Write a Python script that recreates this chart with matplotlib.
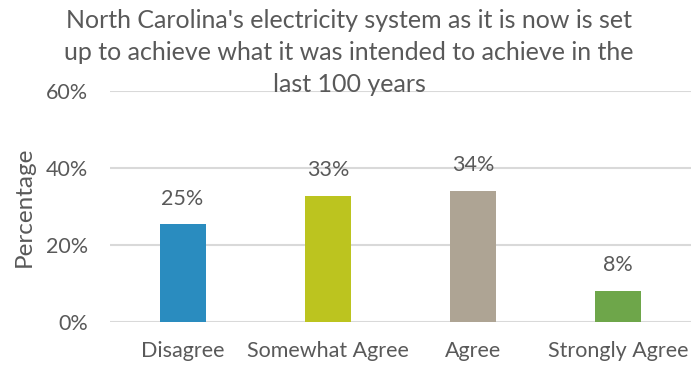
import matplotlib
matplotlib.use("Agg")
import matplotlib.pyplot as plt

# Survey responses (share of respondents, %)
categories = ["Disagree", "Somewhat Agree", "Agree", "Strongly Agree"]
shares = [25.4, 32.8, 34.1, 8.1]
bar_colors = ["#2a8cbf", "#bcc41f", "#aea494", "#6ea64a"]
y_ticks = [0, 20, 40, 60]

title_lines = ["North Carolina's electricity system as it is now is set",
               "up to achieve what it was intended to achieve in the",
               "last 100 years"]

text_gray = "#595959"
grid_gray = "#d9d9d9"

plt.rcParams['font.family'] = ['Lato', 'DejaVu Sans']

fig = plt.figure(figsize=(6.91, 3.66), dpi=100)
ax = fig.add_axes([110 / 691, 1 - 322 / 366, 1 - 110 / 691, (322 - 91) / 366])

x = range(len(categories))
bars = ax.bar(x, shares, width=0.315, color=bar_colors, zorder=3)

# value labels above each bar
for rect, val in zip(bars, shares):
    ax.text(rect.get_x() + rect.get_width() / 2, val + 4.0, f"{val:.0f}%",
            ha="center", va="bottom", fontsize=15.5, color=text_gray)

ax.set_xlim(-0.5, len(categories) - 0.5)
ax.set_ylim(0, 60)
ax.set_yticks(y_ticks)
ax.set_yticklabels([f"{t}%" for t in y_ticks])
ax.set_xticks(list(x))
ax.set_xticklabels(categories)
ax.tick_params(axis="both", length=0, labelsize=15.5, labelcolor=text_gray)
ax.tick_params(axis="x", pad=14)
ax.tick_params(axis="y", pad=16)

ax.grid(axis="y", color=grid_gray, linewidth=1.5, zorder=0)
for side in ax.spines.values():
    side.set_visible(False)

ax.set_ylabel("Percentage", fontsize=17.5, color=text_gray, labelpad=8)

# three-line title, one text per line
for i, line in enumerate(title_lines):
    fig.text(0.505, 1 - (21 + 32 * i) / 366, line, ha="center", va="center",
             fontsize=18, color=text_gray)

fig.savefig("out.png", dpi=100)
